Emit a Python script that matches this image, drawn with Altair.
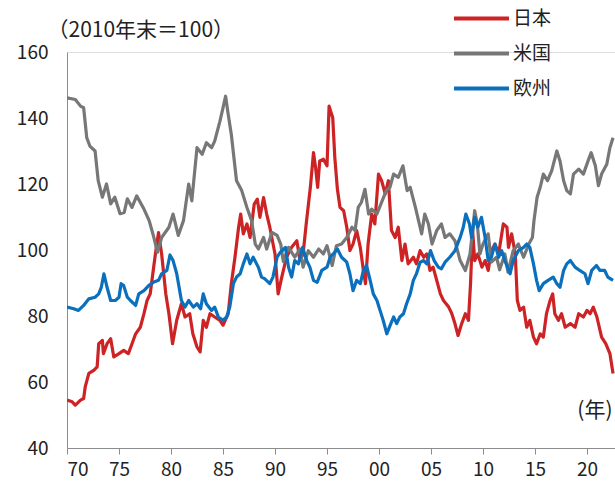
import altair as alt
import pandas as pd

# Index levels, 2010 year-end = 100
jp_years = [1970.0, 1970.5, 1970.8, 1971.3, 1971.6, 1971.75, 1972.1, 1972.6, 1972.9, 1973.05,
            1973.4, 1973.5, 1973.85, 1974.2, 1974.5, 1975.0, 1975.45, 1975.9, 1976.25, 1976.6,
            1977.05, 1977.4, 1977.7, 1978.0, 1978.25, 1978.5, 1978.8, 1979.1, 1979.5, 1979.8,
            1980.15, 1980.55, 1981.0, 1981.35, 1981.8, 1982.1, 1982.5, 1982.8, 1983.1, 1983.4,
            1983.75, 1984.2, 1984.7, 1985.0, 1985.5, 1985.8, 1986.15, 1986.5, 1986.7, 1986.95,
            1987.3, 1987.6, 1988.0, 1988.3, 1988.55, 1988.9, 1989.2, 1989.5, 1990.0, 1990.3,
            1990.65, 1991.1, 1991.6, 1992.1, 1992.4, 1992.7, 1993.0, 1993.4, 1993.7, 1993.9,
            1994.1, 1994.3, 1994.65, 1995.0, 1995.2, 1995.55, 1995.75, 1996.0, 1996.25, 1996.6,
            1996.9, 1997.2, 1997.5, 1997.85, 1998.2, 1998.5, 1998.7, 1998.95, 1999.3, 1999.6,
            1999.95, 2000.25, 2000.6, 2000.9, 2001.2, 2001.55, 2001.85, 2002.2, 2002.5, 2002.8,
            2003.3, 2003.6, 2003.95, 2004.3, 2004.6, 2004.9, 2005.2, 2005.55, 2005.9, 2006.2,
            2006.7, 2007.0, 2007.3, 2007.6, 2007.95, 2008.3, 2008.6, 2008.8, 2009.0, 2009.2,
            2009.5, 2009.9, 2010.2, 2010.5, 2010.8, 2011.15, 2011.5, 2011.95, 2012.3, 2012.45,
            2012.75, 2013.1, 2013.3, 2013.55, 2013.9, 2014.2, 2014.5, 2014.85, 2015.15, 2015.5,
            2015.8, 2016.1, 2016.45, 2016.7, 2016.9, 2017.25, 2017.55, 2017.9, 2018.4, 2018.85,
            2019.2, 2019.65, 2020.0, 2020.3, 2020.6, 2020.95, 2021.4, 2021.8, 2022.2, 2022.5]
jp_values = [54.5, 54.0, 53.0, 54.5, 55.0, 58.5, 62.6, 63.6, 64.6, 71.6,
             72.6, 68.6, 71.6, 73.1, 67.6, 68.6, 69.6, 68.6, 71.6, 74.6,
             76.6, 80.7, 84.7, 86.7, 92.8, 98.8, 105.3, 98.8, 86.7, 80.7,
             71.6, 78.7, 83.7, 79.7, 80.7, 74.6, 70.6, 69.1, 78.7, 76.6,
             80.7, 79.7, 78.7, 77.2, 80.7, 89.8, 97.8, 106.9, 110.9, 104.9,
             107.9, 103.8, 113.9, 115.4, 109.9, 115.9, 110.9, 106.9, 98.8, 86.7,
             91.8, 97.8, 100.8, 102.8, 96.8, 98.8, 107.9, 119.0, 129.5, 125.0,
             119.0, 127.0, 127.5, 125.5, 143.6, 140.1, 128.0, 118.4, 112.9, 111.9,
             106.9, 99.8, 101.8, 105.9, 100.8, 93.8, 89.8, 101.8, 110.9, 107.9,
             123.0, 121.0, 117.0, 121.0, 105.9, 103.8, 106.9, 96.8, 101.8, 95.8,
             97.8, 95.8, 99.8, 97.8, 98.8, 93.8, 94.8, 90.8, 86.7, 84.7,
             82.7, 80.7, 77.7, 74.1, 77.7, 80.7, 78.7, 89.8, 105.9, 96.8,
             98.8, 94.8, 96.8, 93.8, 99.8, 101.8, 98.8, 107.9, 106.9, 100.8,
             104.9, 98.8, 84.7, 81.7, 82.7, 76.6, 78.7, 73.6, 71.6, 74.6,
             73.6, 80.7, 84.7, 86.7, 80.7, 78.7, 80.7, 76.6, 77.7, 76.6,
             80.7, 79.7, 81.7, 80.7, 82.7, 79.7, 73.6, 71.6, 68.6, 62.6]

us_years = [1970.0, 1970.8, 1971.3, 1971.6, 1971.9, 1972.2, 1972.7, 1973.0, 1973.4, 1973.8,
            1974.2, 1974.6, 1975.1, 1975.5, 1975.8, 1976.25, 1976.7, 1977.4, 1977.9, 1978.3,
            1978.7, 1979.1, 1979.8, 1980.2, 1980.7, 1981.2, 1981.7, 1982.0, 1982.5, 1983.0,
            1983.4, 1983.9, 1984.2, 1984.7, 1985.0, 1985.25, 1985.5, 1985.8, 1986.3, 1986.8,
            1987.3, 1987.75, 1988.1, 1988.4, 1988.9, 1989.2, 1989.7, 1990.2, 1990.55, 1990.8,
            1991.3, 1991.9, 1992.4, 1992.7, 1993.2, 1993.7, 1994.2, 1994.65, 1995.0, 1995.5,
            1995.9, 1996.4, 1996.9, 1997.4, 1997.7, 1998.0, 1998.3, 1998.65, 1999.0, 1999.3,
            1999.8, 2000.3, 2000.7, 2001.05, 2001.4, 2001.85, 2002.3, 2002.7, 2003.0, 2003.5,
            2003.8, 2004.1, 2004.4, 2004.75, 2005.1, 2005.55, 2006.0, 2006.35, 2006.8, 2007.3,
            2007.8, 2008.3, 2008.75, 2009.2, 2009.45, 2009.7, 2010.0, 2010.5, 2010.8, 2011.3,
            2011.6, 2012.1, 2012.4, 2012.9, 2013.4, 2013.9, 2014.4, 2014.75, 2014.9, 2015.2,
            2015.5, 2015.8, 2016.2, 2016.6, 2017.1, 2017.4, 2017.75, 2018.05, 2018.4, 2018.7,
            2019.2, 2019.65, 2020.1, 2020.4, 2020.8, 2021.1, 2021.4, 2021.9, 2022.2, 2022.5]
us_values = [146.1, 145.6, 143.6, 143.1, 134.0, 131.5, 130.0, 121.0, 116.0, 120.0,
             114.0, 116.0, 111.0, 111.4, 115.5, 112.9, 116.4, 112.4, 108.9, 104.4,
             99.3, 103.8, 106.9, 110.9, 104.4, 108.9, 120.0, 114.9, 131.0, 129.0,
             132.5, 131.0, 133.0, 139.0, 143.1, 146.6, 141.1, 135.0, 121.0, 118.0,
             112.9, 108.9, 101.8, 100.3, 103.8, 100.3, 105.3, 104.4, 101.8, 96.5,
             100.8, 97.8, 100.3, 94.8, 99.8, 97.8, 100.3, 98.8, 101.3, 95.3,
             101.3, 101.8, 103.8, 106.9, 105.9, 112.9, 114.4, 118.4, 110.9, 112.4,
             110.9, 114.9, 118.0, 119.0, 123.0, 122.0, 125.5, 118.0, 119.0, 112.9,
             108.9, 104.9, 110.9, 107.9, 101.8, 105.9, 107.9, 103.8, 104.9, 102.8,
             96.8, 93.8, 98.8, 111.9, 107.9, 98.8, 101.8, 104.9, 96.3, 97.8,
             94.0, 98.8, 93.3, 99.8, 101.8, 97.8, 101.8, 103.8, 108.9, 116.0,
             119.0, 123.0, 121.0, 124.0, 130.0, 127.0, 121.0, 118.0, 117.0, 123.0,
             124.5, 123.0, 127.0, 129.5, 125.5, 119.5, 123.0, 126.0, 131.0, 134.0]

eu_years = [1970.0, 1970.65, 1971.1, 1971.6, 1972.1, 1972.7, 1973.05, 1973.3, 1973.55, 1973.85,
            1974.2, 1974.65, 1975.0, 1975.2, 1975.45, 1975.8, 1976.1, 1976.6, 1976.9, 1977.4,
            1977.85, 1978.3, 1978.8, 1979.1, 1979.6, 1979.9, 1980.2, 1980.55, 1981.0, 1981.35,
            1981.7, 1982.15, 1982.5, 1982.85, 1983.1, 1983.4, 1983.9, 1984.2, 1984.55, 1985.0,
            1985.35, 1985.65, 1986.0, 1986.3, 1986.65, 1986.95, 1987.3, 1987.6, 1987.9, 1988.4,
            1988.7, 1989.0, 1989.5, 1989.8, 1990.2, 1990.5, 1991.0, 1991.3, 1991.6, 1991.9,
            1992.25, 1992.65, 1993.05, 1993.35, 1993.7, 1994.05, 1994.5, 1995.0, 1995.3, 1995.6,
            1996.0, 1996.4, 1996.9, 1997.2, 1997.5, 1997.85, 1998.2, 1998.5, 1998.8, 1999.15,
            1999.45, 1999.8, 2000.1, 2000.4, 2000.75, 2001.05, 2001.4, 2001.7, 2002.0, 2002.35,
            2002.65, 2003.0, 2003.3, 2003.6, 2003.95, 2004.3, 2004.6, 2004.95, 2005.3, 2005.7,
            2006.0, 2006.35, 2006.8, 2007.3, 2007.8, 2008.1, 2008.35, 2008.7, 2008.9, 2009.2,
            2009.5, 2009.85, 2010.2, 2010.5, 2010.8, 2011.15, 2011.5, 2011.8, 2012.1, 2012.6,
            2012.9, 2013.4, 2013.9, 2014.2, 2014.5, 2014.85, 2015.15, 2015.4, 2015.8, 2016.25,
            2016.75, 2017.1, 2017.4, 2017.75, 2018.05, 2018.4, 2018.85, 2019.3, 2019.8, 2020.1,
            2020.45, 2020.9, 2021.25, 2021.7, 2022.0, 2022.5]
eu_values = [82.7, 82.2, 81.7, 83.2, 85.2, 85.7, 86.7, 88.7, 92.8, 88.7,
             84.7, 84.7, 85.7, 89.8, 89.2, 85.7, 84.7, 83.2, 86.7, 87.7,
             89.2, 90.2, 90.8, 92.8, 93.8, 98.5, 96.8, 92.8, 84.7, 82.7,
             84.7, 82.7, 83.7, 82.2, 86.7, 83.7, 81.7, 82.7, 79.7, 78.7,
             79.7, 82.7, 89.8, 91.8, 92.8, 95.8, 98.8, 95.8, 97.8, 94.8,
             91.8, 91.3, 89.8, 91.8, 97.8, 99.3, 100.8, 94.8, 91.8, 96.8,
             95.8, 100.8, 96.8, 94.8, 90.8, 90.2, 93.8, 94.8, 97.8, 98.8,
             100.3, 97.8, 96.3, 92.8, 87.7, 90.8, 89.8, 93.8, 95.3, 90.8,
             86.7, 84.7, 81.7, 78.7, 74.6, 77.0, 79.7, 77.7, 79.7, 80.7,
             83.7, 86.7, 90.8, 92.8, 96.3, 96.8, 95.8, 99.8, 96.8, 94.8,
             94.3, 96.3, 97.8, 99.8, 103.8, 106.9, 110.9, 107.9, 103.8, 109.9,
             106.9, 109.9, 103.8, 96.8, 97.8, 101.8, 97.8, 99.8, 96.8, 92.8,
             96.8, 99.8, 100.8, 101.8, 100.8, 95.8, 90.8, 87.7, 89.8, 90.8,
             91.8, 89.8, 88.7, 93.8, 95.8, 96.8, 94.8, 93.8, 92.8, 89.8,
             93.8, 95.3, 93.8, 93.8, 91.8, 90.8]

series_names = ["日本", "米国", "欧州"]
series_colors = ["#CD2325", "#777777", "#0A70BE"]
x_ticks = [1970, 1975, 1980, 1985, 1990, 1995, 2000, 2005, 2010, 2015, 2020]
y_ticks = [40, 60, 80, 100, 120, 140, 160]

frames = []
for name, yrs, vals in zip(series_names,
                           [jp_years, us_years, eu_years],
                           [jp_values, us_values, eu_values]):
    frames.append(pd.DataFrame({"year": yrs, "value": vals, "series": name}))
df = pd.concat(frames, ignore_index=True)

FONT = "Noto Sans CJK JP"
TEXT = "#222222"
AXIS = "#8C8C8C"

chart = alt.Chart(df).mark_line(strokeWidth=3.2, strokeJoin="round", clip=True).encode(
    x=alt.X(
        "year:Q",
        scale=alt.Scale(domain=[1970, 2022.69], nice=False, zero=False),
        axis=alt.Axis(
            values=x_ticks,
            labelExpr="(datum.value % 100 < 10 ? '0' : '') + (datum.value % 100)",
            grid=False,
            tickSize=6,
            tickColor=AXIS,
            domainColor=AXIS,
            labelPadding=6,
            labelFontSize=19,
            labelColor=TEXT,
            labelFont=FONT,
            title="(年)",
            titleFont=FONT,
            titleFontSize=21,
            titleFontWeight="normal",
            titleColor=TEXT,
            titleAlign="right",
            titleBaseline="middle",
            titleX=545,
            titleY=-38,
        ),
    ),
    y=alt.Y(
        "value:Q",
        scale=alt.Scale(domain=[40, 160], nice=False, zero=False),
        axis=alt.Axis(
            values=y_ticks,
            grid=False,
            ticks=False,
            domainColor=AXIS,
            labelPadding=19,
            labelFontSize=19,
            labelColor=TEXT,
            labelFont=FONT,
            title="（2010年末＝100）",
            titleFont=FONT,
            titleFontSize=21,
            titleFontWeight="normal",
            titleColor=TEXT,
            titleAngle=0,
            titleAlign="left",
            titleBaseline="middle",
            titleX=-20,
            titleY=-22,
        ),
    ),
    color=alt.Color(
        "series:N",
        sort=series_names,
        scale=alt.Scale(domain=series_names, range=series_colors),
        legend=alt.Legend(
            title=None,
            orient="none",
            legendX=405,
            legendY=-43,
            symbolType="M-5.5,0H5.5",
            symbolSize=100,
            symbolStrokeWidth=4,
            labelFont=FONT,
            labelFontSize=19,
            labelColor=TEXT,
            labelOffset=22,
            rowPadding=15,
            padding=0,
        ),
    ),
).properties(
    width=548,
    height=396,
    autosize=alt.AutoSizeParams(type="none"),
    padding={"left": 67, "top": 52, "right": 0, "bottom": 36},
).configure_view(stroke=None).configure(background="white")

chart.save("out.html", embed_options={"renderer": "svg", "actions": False})
